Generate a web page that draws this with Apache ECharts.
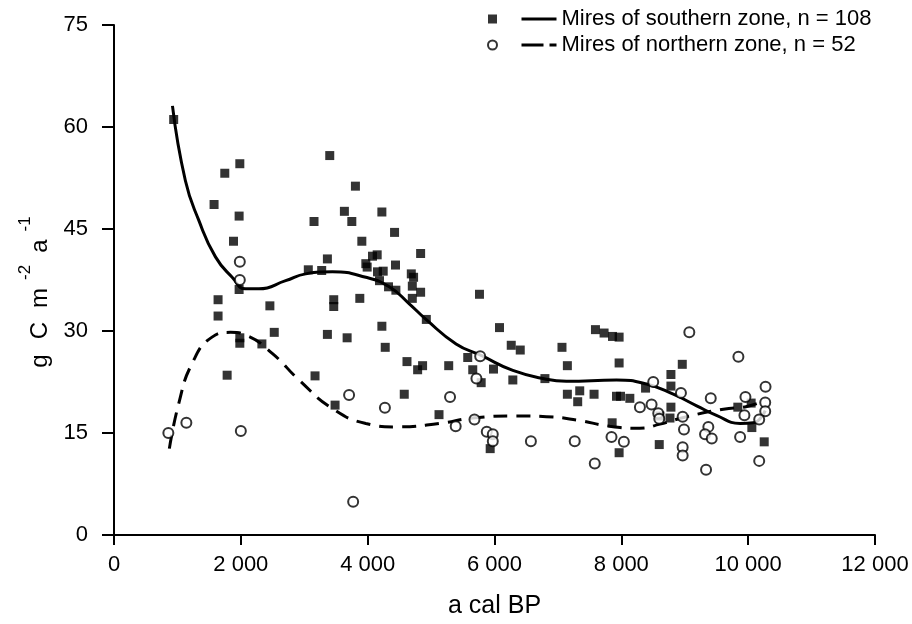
<!DOCTYPE html>
<html>
<head>
<meta charset="utf-8">
<script src="https://cdn.jsdelivr.net/npm/echarts@6/dist/echarts.min.js"></script>
<style>
  html, body { margin: 0; padding: 0; background: #fff; }
  #chart { width: 912px; height: 624px; }
</style>
</head>
<body>
<div id="chart"></div>
<script>
// southern zone mires (filled squares)
const southPoints = [
  [941, 61.1], [1747, 53.2], [1984, 54.6], [1578, 48.6], [1973, 46.9], [1884, 43.2],
  [1641, 34.6], [1641, 32.2], [1973, 36.1], [1984, 29.0], [1984, 28.2], [1784, 23.5],
  [2458, 33.7], [2527, 29.8], [2332, 28.1], [3064, 39.0], [3275, 38.9], [3365, 40.6],
  [3154, 46.1], [3402, 55.8], [3633, 47.6], [3750, 46.1], [3807, 51.3], [3908, 43.2],
  [3465, 34.6], [3465, 33.6], [3365, 29.5], [3676, 29.0], [3876, 34.8], [3170, 23.4],
  [3486, 19.1], [3971, 39.9], [4076, 41.0],
  [4224, 47.5], [4424, 44.5], [4150, 41.2], [3992, 39.4], [4155, 38.7], [4245, 38.8],
  [4439, 39.7], [4187, 37.4], [4835, 41.4], [4688, 38.4], [4724, 37.9], [4329, 36.5],
  [4445, 36.0], [4704, 36.6], [4835, 35.7], [4704, 34.8], [4925, 31.7], [5763, 35.4],
  [4224, 30.7], [4277, 27.6], [6079, 30.5], [6264, 27.9], [6406, 27.2], [4620, 25.5],
  [4788, 24.3], [4866, 24.9], [5278, 24.9], [5578, 26.1], [5657, 24.3], [5984, 24.4],
  [5790, 22.4], [6289, 22.8], [6795, 23.0], [4577, 20.7], [5125, 17.7], [5932, 12.7],
  [7064, 27.6], [7149, 24.9], [7149, 20.7], [7344, 21.2], [7312, 19.6], [7570, 20.7],
  [7592, 30.2], [7728, 29.7], [7861, 29.2], [7965, 29.1], [7965, 25.3], [7924, 20.4],
  [7987, 20.4], [8134, 20.1], [7855, 16.5], [7965, 12.1], [8382, 21.6], [8782, 23.6],
  [8782, 21.9], [8961, 25.1], [8782, 18.8], [8608, 17.5], [8767, 17.2], [8598, 13.3],
  [9837, 18.8], [10047, 19.4], [10058, 15.8], [10253, 13.7]
];

// northern zone mires (open circles)
const northPoints = [
  [857, 15.0], [1141, 16.5], [1984, 40.2], [1984, 37.5], [2000, 15.3], [3707, 20.6],
  [3771, 4.9], [4272, 18.7], [5299, 20.3], [5388, 16.0], [5774, 26.3], [5715, 23.0],
  [5684, 17.0], [5878, 15.2], [5973, 14.8], [5973, 13.8], [6574, 13.8], [7265, 13.8],
  [7581, 10.5], [7845, 14.4], [8040, 13.7], [8293, 18.8], [8477, 19.2], [8503, 22.5],
  [8582, 17.9], [8598, 17.1], [8940, 20.9], [8967, 17.4], [8988, 15.5], [8967, 12.9],
  [8967, 11.7], [9072, 29.8], [9846, 26.2], [10274, 21.8], [9410, 20.1], [9957, 20.3],
  [10269, 19.5], [10269, 18.2], [9941, 17.6], [10174, 17.0], [9372, 15.9], [9320, 14.8],
  [9426, 14.2], [9873, 14.4], [9336, 9.6], [10174, 10.9]
];

// fitted curves
const southCurve = [
  [922, 63.1], [1126, 52.1], [1336, 46.3], [1600, 40.9], [1863, 37.9],
  [2074, 36.2], [2285, 36.2], [2707, 37.4], [3023, 38.4], [3444, 38.7], [3971, 37.9],
  [4340, 36.5], [4656, 34.0], [4920, 31.7], [5394, 28.1], [5790, 26.4], [6289, 24.2],
  [6817, 22.9], [7133, 22.6], [7924, 22.8], [8398, 22.2], [8819, 20.7], [9188, 19.0],
  [9500, 17.6], [9873, 16.4], [10083, 16.5], [10269, 18.3]
];

const northCurve = [
  [873, 12.7], [1020, 19.3], [1230, 25.2], [1546, 29.1], [1837, 29.8], [2074, 29.4],
  [2495, 26.7], [2917, 22.8], [3444, 18.6], [3971, 16.4], [4445, 15.9], [5130, 16.4],
  [5657, 17.2], [6343, 17.5], [6817, 17.4], [7300, 16.9], [7818, 16.0], [8293, 15.7],
  [8608, 16.3], [9031, 17.4], [9610, 18.5], [9979, 18.9], [10269, 19.8]
];

const southName = 'Mires of southern zone, n = 108';
const northName = 'Mires of northern zone, n = 52';

const FONT = '"Liberation Sans", Arial, sans-serif';

const chart = echarts.init(document.getElementById('chart'));

chart.setOption({
  animation: false,
  backgroundColor: '#fff',
  textStyle: { fontFamily: FONT, color: '#000' },
  grid: { left: 114, right: 37, top: 25, bottom: 89, containLabel: false, outerBoundsMode: 'none' },
  legend: [
    {
      // marker column of the key, no text of its own
      data: ['southMarks', 'northMarks'],
      orient: 'vertical',
      left: 487,
      top: 8,
      padding: 0,
      itemWidth: 9,
      itemHeight: 9,
      itemGap: 4,
      selectedMode: false,
      formatter: () => ' ',
      textStyle: { fontSize: 22, lineHeight: 22 }
    },
    {
      data: [
        { name: southName, lineStyle: { type: 'solid' } },
        { name: northName, lineStyle: { type: [22, 6, 7, 20] } }
      ],
      orient: 'vertical',
      left: 520,
      top: 8,
      padding: 0,
      itemWidth: 35,
      itemHeight: 10,
      itemGap: 4,
      selectedMode: false,
      itemStyle: { color: 'rgba(0,0,0,0)', borderWidth: 0 },
      lineStyle: { color: '#000', width: 3 },
      textStyle: { fontSize: 22, lineHeight: 22, color: '#000' }
    }
  ],
  xAxis: {
    type: 'value',
    min: 0,
    max: 12000,
    interval: 2000,
    name: 'a cal BP',
    nameLocation: 'middle',
    nameGap: 59,
    nameTextStyle: { fontSize: 25, color: '#000' },
    axisLine: { onZero: false, lineStyle: { color: '#000', width: 2 } },
    axisTick: { length: 10, lineStyle: { color: '#000', width: 2 } },
    axisLabel: {
      fontSize: 22,
      color: '#000',
      margin: 19,
      formatter: (v) => (v >= 1000 ? Math.floor(v / 1000) + ' 000' : String(v))
    },
    splitLine: { show: false }
  },
  yAxis: {
    type: 'value',
    min: 0,
    max: 75,
    interval: 15,
    name: '{g|g}{c|C}{m|m}{s2|-2}{a|a}{s1|-1}',
    nameLocation: 'middle',
    nameRotate: 90,
    nameGap: 60,
    nameTextStyle: {
      color: '#000',
      rich: {
        g: { fontSize: 24, fontFamily: FONT, color: '#000', verticalAlign: 'bottom', padding: [12, 15, 0, 0] },
        c: { fontSize: 24, fontFamily: FONT, color: '#000', verticalAlign: 'bottom', padding: [12, 14, 0, 0] },
        m: { fontSize: 24, fontFamily: FONT, color: '#000', verticalAlign: 'bottom', padding: [12, 8, 0, 0] },
        s2: { fontSize: 17, fontFamily: FONT, color: '#000', verticalAlign: 'top', padding: [0, 12, 0, 0] },
        a: { fontSize: 24, fontFamily: FONT, color: '#000', verticalAlign: 'bottom', padding: [12, 8, 0, 0] },
        s1: { fontSize: 17, fontFamily: FONT, color: '#000', verticalAlign: 'top', padding: [0, 24, 0, 0] }
      }
    },
    axisLine: { onZero: false, lineStyle: { color: '#000', width: 2 } },
    axisTick: { length: 12, lineStyle: { color: '#000', width: 2 } },
    axisLabel: { fontSize: 22, color: '#000', margin: 26 },
    splitLine: { show: false }
  },
  series: [
    {
      name: 'southMarks',
      type: 'scatter',
      symbol: 'rect',
      symbolSize: 9,
      itemStyle: { color: '#000' },
      data: southPoints,
      z: 3
    },
    {
      name: 'northMarks',
      type: 'scatter',
      symbol: 'circle',
      symbolSize: 10,
      itemStyle: { color: '#fff', borderColor: '#000', borderWidth: 2 },
      data: northPoints,
      z: 4
    },
    {
      name: southName,
      type: 'line',
      smooth: true,
      symbol: 'none',
      itemStyle: { color: '#000' },
      lineStyle: { color: '#000', width: 3 },
      data: southCurve,
      z: 2
    },
    {
      name: northName,
      type: 'line',
      smooth: true,
      symbol: 'none',
      itemStyle: { color: '#000' },
      lineStyle: { color: '#000', width: 3, type: [14, 9] },
      data: northCurve,
      z: 2
    }
  ]
});
</script>
</body>
</html>
